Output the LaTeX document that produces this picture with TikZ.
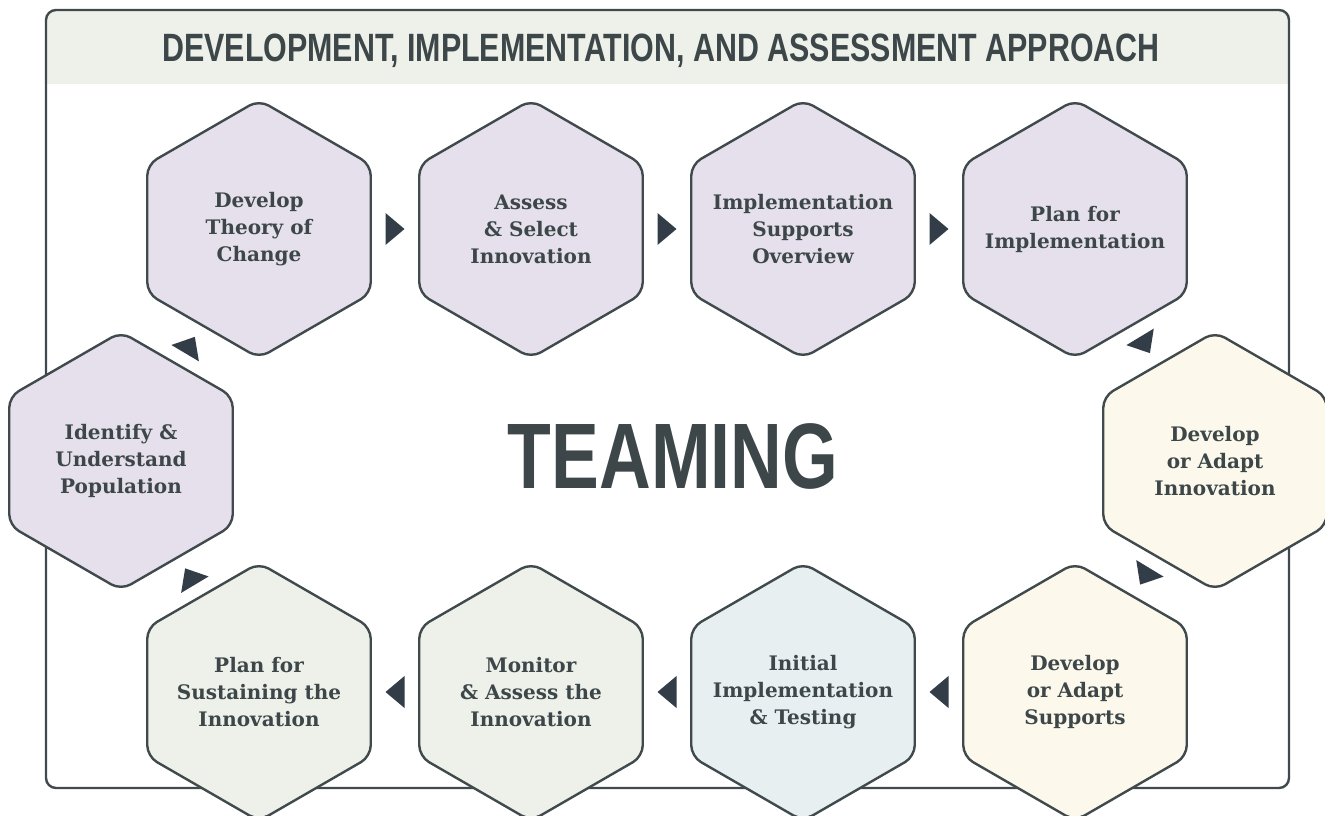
\documentclass[tikz,border=0pt]{standalone}
\usepackage{fontspec}
\setmainfont{DejaVu Serif}
\newfontfamily\headfont[FakeStretch=0.77]{Liberation Sans}
\usepackage{tikz}
\usetikzlibrary{shapes.geometric}
\usetikzlibrary{decorations.markings}

\definecolor{ink}{HTML}{3D4749}
\definecolor{edgecol}{HTML}{404A4D}
\definecolor{tipcol}{HTML}{333D48}
\definecolor{lilac}{HTML}{E5E0EC}
\definecolor{cream}{HTML}{FCF9EC}
\definecolor{mist}{HTML}{E7EFF1}
\definecolor{sage}{HTML}{EEF1EA}

\begin{document}
\begin{tikzpicture}[x=1pt,y=-1pt,node distance=272pt,
			hex/.style={regular polygon,regular polygon sides=6,shape border rotate=30,
				minimum size=258pt,inner sep=0pt,draw=edgecol,line width=2.4pt,
				rounded corners=11pt,
				label={[hex text]center:{#1}}},
			hex text/.style={text=ink,align=center,inner sep=0pt,
				font=\bfseries\fontsize{20}{27}\selectfont},
			flowtip/.style={decoration={markings,
					mark=at position 0.5 with {\fill[tipcol] (-9.5,-16) -- (9.5,0) -- (-9.5,16) -- cycle;}},
				postaction={decorate}}]
			
			\useasboundingbox (0,0) rectangle (1325,816);
			\clip (0,0) rectangle (1325,816);
			
			% frame and header band
			\fill[white,rounded corners=10pt] (46,10) rectangle (1289,788);
			\begin{scope}
				\clip[rounded corners=10pt] (46,10) rectangle (1289,788);
				\fill[sage] (46,10) rectangle (1289,84);
			\end{scope}
			\draw[edgecol,line width=2.4pt,rounded corners=10pt] (46,10) rectangle (1289,788);
			
			\node[text=ink] (title) at (661,51)
				{\headfont\bfseries\fontsize{39.5}{39.5}\selectfont DEVELOPMENT, IMPLEMENTATION, AND ASSESSMENT APPROACH};
			\node[text=ink] (teaming) at (673,456)
				{\headfont\bfseries\fontsize{93}{93}\selectfont TEAMING};
			
			\node[hex={Identify \&\\Understand\\Population},fill=lilac] (h1) at (121,461) {};
			\node[hex={Develop\\Theory of\\Change},fill=lilac] (h2) at (259,229) {};
			\node[hex={Assess\\\& Select\\Innovation},fill=lilac] (h3) [right of=h2] {};
			\node[hex={Implementation\\Supports\\Overview},fill=lilac] (h4) [right of=h3] {};
			\node[hex={Plan for\\Implementation},fill=lilac] (h5) [right of=h4] {};
			\node[hex={Develop\\or Adapt\\Innovation},fill=cream] (h6) at (1215,461) {};
			\node[hex={Plan for\\Sustaining the\\Innovation},fill=sage] (h10) at (259,692) {};
			\node[hex={Monitor\\\& Assess the\\Innovation},fill=sage] (h9) [right of=h10] {};
			\node[hex={Initial\\Implementation\\\& Testing},fill=mist] (h8) [right of=h9] {};
			\node[hex={Develop\\or Adapt\\Supports},fill=cream] (h7) [right of=h8] {};
			
			\path[every edge/.style={flowtip}]
			(h1) edge (h2)
			(h2) edge (h3)
			(h3) edge (h4)
			(h4) edge (h5)
			(h5) edge (h6)
			(h6) edge (h7)
			(h7) edge (h8)
			(h8) edge (h9)
			(h9) edge (h10)
			(h10) edge (h1);
		\end{tikzpicture}
\end{document}
